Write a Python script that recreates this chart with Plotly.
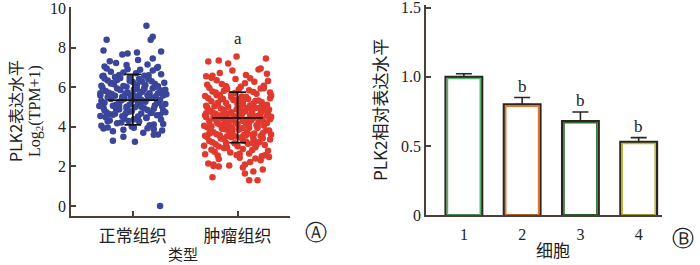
import plotly.graph_objects as go

# ---------------- Panel A data ----------------
groups = ["正常组织", "肿瘤组织"]
group_means = [5.35, 4.45]
group_sd_low = [4.10, 3.20]
group_sd_high = [6.65, 5.75]

normal_jitter = [
    -0.30, -0.22, -0.15, -0.08, -0.01, 0.06, 0.13, 0.20, 0.27, -0.26, -0.11, 0.03, 0.16, 0.29, -0.04,
    -0.31, -0.25, -0.19, -0.13, -0.07, -0.01, 0.05, 0.11, 0.17, 0.23, 0.29, -0.28, -0.22, -0.16, -0.10, -0.04, 0.02, 0.08, 0.14, 0.20, 0.26, 0.31,
    -0.32, -0.27, -0.21, -0.16, -0.11, -0.06, 0.00, 0.05, 0.10, 0.15, 0.21, 0.26, 0.31, -0.30, -0.24, -0.19, -0.13, -0.08, -0.03, 0.03, 0.08, 0.12, 0.18, 0.23, 0.28, -0.01,
    -0.31, -0.26, -0.20, -0.15, -0.10, -0.05, 0.01, 0.06, 0.11, 0.16, 0.22, 0.27, 0.32, -0.29, -0.23, -0.17, -0.12, -0.07, -0.02, 0.04, 0.09, 0.14, 0.19, 0.24, 0.30, -0.09,
    -0.30, -0.24, -0.18, -0.12, -0.06, 0.00, 0.06, 0.12, 0.18, 0.24, 0.30, -0.27, -0.21, -0.15, -0.09, -0.03, 0.03, 0.09, 0.15, 0.21,
    -0.29, -0.21, -0.13, -0.05, 0.03, 0.11, 0.19, 0.27, -0.25, -0.17, -0.09, 0.07, 0.15, 0.23,
    -0.27, -0.16, -0.06, 0.05, 0.14, 0.24, -0.22, 0.19,
    -0.28, -0.19, -0.09, 0.01, 0.10, 0.20, 0.28, -0.24, 0.14, 0.24,
    0.13, 0.19, 0.17, -0.25, -0.28, 0.27, 0.04, -0.05, -0.10, 0.26, -0.19, -0.09, 0.02, 0.20,
    -0.27, -0.14, 0.00, 0.13, 0.27, -0.20, -0.06, 0.08, 0.22, -0.31, -0.17, -0.03, 0.11, 0.25,
    -0.24, -0.10, 0.04, 0.18, 0.31, -0.28, -0.13, 0.01, 0.15, 0.29,
]
normal_vals = [
    4.05, 4.32, 4.18, 4.41, 4.02, 4.27, 4.45, 4.12, 4.36, 4.48, 4.22, 4.38, 4.08, 4.15, 4.30,
    4.55, 4.72, 4.61, 4.88, 4.66, 4.79, 4.52, 4.94, 4.70, 4.58, 4.83, 4.97, 4.64, 4.90, 4.53, 4.76, 4.99, 4.68, 4.85, 4.91, 4.60, 4.74,
    5.05, 5.22, 5.40, 5.11, 5.33, 5.02, 5.47, 5.18, 5.29, 5.44, 5.08, 5.36, 5.15, 5.31, 5.49, 5.06, 5.25, 5.42, 5.13, 5.38, 5.01, 5.27, 5.46, 5.20, 5.03, 5.35,
    5.58, 5.81, 5.66, 5.93, 5.52, 5.74, 5.88, 5.61, 5.97, 5.70, 5.55, 5.84, 5.64, 5.99, 5.72, 5.57, 5.86, 5.68, 5.53, 5.91, 5.77, 5.60, 5.95, 5.69, 5.82, 5.50,
    6.08, 6.34, 6.15, 6.47, 6.02, 6.26, 6.41, 6.11, 6.30, 6.05, 6.22, 6.44, 6.19, 6.37, 6.06, 6.49, 6.13, 6.28, 6.40, 6.17,
    6.55, 6.78, 6.62, 6.91, 6.70, 6.58, 6.85, 6.66, 6.95, 6.52, 6.74, 6.88, 6.60, 6.97,
    7.05, 7.22, 7.12, 7.38, 7.15, 7.02, 7.31, 7.45,
    3.92, 3.78, 3.86, 3.95, 3.70, 3.88, 3.82, 3.97, 3.93, 3.62,
    9.10, 8.55, 8.40, 8.40, 7.85, 7.80, 7.75, 7.70, 7.65, 0.00, 3.30, 3.50, 3.25, 3.60,
    4.82, 5.14, 5.63, 4.47, 5.78, 6.21, 4.93, 5.37, 6.03, 5.69, 4.66, 6.33, 5.91, 5.24,
    4.28, 5.46, 6.12, 4.71, 5.87, 6.58, 5.05, 4.39, 6.44, 5.58,
]

tumor_jitter = [
    -0.28, -0.18, -0.08, 0.02, 0.12, 0.22, 0.30, -0.23, 0.07, 0.17,
    -0.31, -0.25, -0.19, -0.13, -0.07, -0.01, 0.05, 0.11, 0.17, 0.23, 0.29, -0.22, -0.10, 0.02, 0.14, 0.26,
    -0.32, -0.27, -0.21, -0.16, -0.11, -0.06, 0.00, 0.05, 0.10, 0.15, 0.21, 0.26, 0.31, -0.29, -0.24, -0.18, -0.13, -0.03, 0.03, 0.08, 0.18, 0.24,
    -0.31, -0.26, -0.20, -0.15, -0.10, -0.05, 0.01, 0.06, 0.11, 0.16, 0.22, 0.27, 0.32, -0.29, -0.23, -0.17, -0.12, -0.07, -0.02, 0.04, 0.09, 0.14, 0.19, 0.24, 0.30, -0.08,
    -0.32, -0.27, -0.22, -0.17, -0.12, -0.07, -0.02, 0.03, 0.08, 0.13, 0.18, 0.23, 0.28, -0.30, -0.25, -0.20, -0.15, -0.10, -0.05, 0.00, 0.05, 0.10, 0.15, 0.20, 0.25, 0.31, -0.19, 0.11,
    -0.31, -0.26, -0.21, -0.16, -0.11, -0.06, -0.01, 0.04, 0.09, 0.14, 0.19, 0.24, 0.29, -0.29, -0.24, -0.18, -0.13, -0.08, -0.03, 0.02, 0.07, 0.12, 0.17, 0.22, 0.27, 0.32, -0.14, 0.06,
    -0.30, -0.25, -0.19, -0.14, -0.09, -0.04, 0.02, 0.07, 0.12, 0.17, 0.23, 0.28, -0.28, -0.22, -0.16, -0.11, -0.06, 0.00, 0.05, 0.10, 0.15, 0.20, 0.26, 0.31,
    -0.31, -0.24, -0.17, -0.10, -0.03, 0.04, 0.11, 0.18, 0.25, 0.31, -0.27, -0.20, -0.13, -0.06, 0.01, 0.08, 0.15, 0.22,
    -0.29, -0.20, -0.11, -0.02, 0.07, 0.16, 0.25, -0.25, -0.15, 0.03, 0.12, 0.29,
    -0.30, -0.17, -0.05, 0.08, 0.20, 0.28, -0.24,
    -0.01, 0.27, -0.28, -0.18, -0.09, 0.22, -0.24, 0.11, 0.19, 0.07, 0.15, 0.24, -0.18, -0.23, 0.05,
    -0.26, -0.12, 0.02, 0.16, 0.30, -0.19, -0.05, 0.09, 0.23, -0.30, -0.16, -0.02, 0.12, 0.26,
    -0.23, -0.09, 0.05, 0.19, 0.32, -0.27, -0.13, 0.00, 0.14, 0.28, -0.21, -0.07, 0.08, 0.21,
]
tumor_vals = [
    2.15, 2.38, 2.05, 2.44, 2.22, 2.31, 2.48, 2.02, 2.10, 2.40,
    2.62, 2.85, 2.55, 2.93, 2.71, 2.58, 2.88, 2.66, 2.97, 2.52, 2.79, 2.74, 2.95, 2.64, 2.83, 2.57,
    3.05, 3.28, 3.12, 3.41, 3.19, 3.47, 3.02, 3.33, 3.15, 3.44, 3.24, 3.08, 3.36, 3.49, 3.22, 3.01, 3.38, 3.17, 3.46, 3.26, 3.10, 3.43,
    3.55, 3.78, 3.63, 3.91, 3.52, 3.70, 3.86, 3.59, 3.96, 3.67, 3.54, 3.82, 3.61, 3.98, 3.73, 3.57, 3.88, 3.65, 3.51, 3.93, 3.76, 3.60, 3.94, 3.68, 3.81, 3.99,
    4.05, 4.28, 4.42, 4.12, 4.35, 4.01, 4.22, 4.47, 4.16, 4.33, 4.08, 4.40, 4.19, 4.49, 4.03, 4.26, 4.44, 4.10, 4.37, 4.14, 4.30, 4.02, 4.45, 4.24, 4.07, 4.38, 4.17, 4.21,
    4.58, 4.81, 4.66, 4.93, 4.52, 4.74, 4.88, 4.61, 4.97, 4.70, 4.55, 4.84, 4.63, 4.99, 4.72, 4.57, 4.86, 4.68, 4.53, 4.91, 4.77, 4.60, 4.95, 4.69, 4.82, 4.51, 4.64, 4.79,
    5.06, 5.29, 5.14, 5.42, 5.02, 5.35, 5.19, 5.47, 5.09, 5.31, 5.24, 5.12, 5.45, 5.04, 5.38, 5.21, 5.49, 5.11, 5.27, 5.40, 5.16, 5.33, 5.08, 5.44,
    5.56, 5.78, 5.62, 5.91, 5.70, 5.53, 5.85, 5.67, 5.95, 5.74, 5.98, 5.59, 5.82, 5.64, 5.88, 5.52, 5.76, 5.93,
    6.12, 6.35, 6.05, 6.41, 6.20, 6.28, 6.08, 6.48, 6.16, 6.03, 6.45, 6.32,
    6.55, 6.72, 6.85, 6.62, 6.90, 6.68, 6.58,
    7.55, 7.45, 7.30, 7.35, 7.20, 6.95, 1.45, 1.30, 1.30, 1.65, 1.75, 1.85, 2.00, 2.10, 1.95,
    3.72, 4.14, 4.63, 3.29, 4.87, 5.21, 3.93, 4.36, 5.04, 4.69, 3.46, 5.33, 4.91, 4.23,
    4.48, 3.84, 5.12, 4.02, 5.58, 3.66, 4.77, 5.39, 3.18, 4.56, 5.74, 4.31, 3.57, 4.95,
]
sig_a_label = "a"
sig_a_y = 8.45

# ---------------- Panel B data ----------------
cells = ["1", "2", "3", "4"]
cell_vals = [1.00, 0.80, 0.68, 0.53]
cell_err = [0.022, 0.05, 0.065, 0.03]
cell_sig = ["", "b", "b", "b"]
cell_colors = ["#55b46a", "#e8742e", "#2f6b2c", "#bdb83a"]

AX = "#4a403a"
SERIF = "Liberation Serif, Times New Roman, Noto Sans CJK SC, serif"
CJK = "Noto Sans CJK SC, Liberation Serif, serif"

fig = go.Figure()

fig.add_trace(go.Scatter(
    x=[0 + j for j in normal_jitter], y=normal_vals, mode="markers",
    marker=dict(size=6.5, color="#3b469a"), xaxis="x", yaxis="y", showlegend=False))
fig.add_trace(go.Scatter(
    x=[1 + j for j in tumor_jitter], y=tumor_vals, mode="markers",
    marker=dict(size=6.5, color="#e0392e"), xaxis="x", yaxis="y", showlegend=False))

for i in range(len(groups)):
    xs = [i - 0.24, i + 0.24, None, i, i, None, i - 0.08, i + 0.08, None, i - 0.08, i + 0.08]
    ys = [group_means[i], group_means[i], None, group_sd_low[i], group_sd_high[i], None,
          group_sd_high[i], group_sd_high[i], None, group_sd_low[i], group_sd_low[i]]
    fig.add_trace(go.Scatter(x=xs, y=ys, mode="lines", line=dict(color="#111111", width=1.7),
                             xaxis="x", yaxis="y", showlegend=False))

cell_x = [int(c) for c in cells]
fig.add_trace(go.Bar(
    x=cell_x, y=cell_vals, width=0.63, marker=dict(color="white", line=dict(color="#2b2623", width=2.2)),
    error_y=dict(type="data", symmetric=False, array=cell_err, arrayminus=[0] * 4,
                 color="#2b2623", thickness=1.6, width=8),
    xaxis="x2", yaxis="y2", showlegend=False))
fig.add_trace(go.Bar(
    x=cell_x, y=[v - 0.012 for v in cell_vals], width=0.565,
    marker=dict(color="rgba(0,0,0,0)", line=dict(color=cell_colors, width=1.6)),
    xaxis="x2", yaxis="y2", showlegend=False))

W, H = 700, 265
def fy(px):
    return 1 - px / H

common_ax = dict(showline=True, linecolor=AX, linewidth=1.5, showgrid=False, zeroline=False,
                 automargin=False, ticklabeloverflow="allow")

fig.update_layout(
    width=W, height=H, margin=dict(l=0, r=0, t=0, b=0),
    paper_bgcolor="white", plot_bgcolor="white", barmode="overlay",
    font=dict(family=SERIF, size=16, color="#222222"),
    xaxis=dict(domain=[71 / W, 290 / W], range=[-0.59, 1.5], tickvals=[0, 1], ticktext=groups,
               ticks="inside", ticklen=5, tickcolor=AX, tickwidth=1.5, ticklabelstandoff=4,
               tickfont=dict(family=CJK, size=17, color="#222"), **common_ax),
    yaxis=dict(domain=[fy(216), fy(7)], range=[-0.5, 10.05], tickvals=[0, 2, 4, 6, 8, 10],
               ticks="inside", ticklen=5, tickcolor=AX, tickwidth=1.5,
               tickfont=dict(family=SERIF, size=16, color="#222"), **common_ax),
    xaxis2=dict(domain=[426 / W, 662 / W], range=[0.35, 4.4], tickvals=cell_x, ticktext=cells,
                ticks="", anchor="y2", ticklabelstandoff=4,
                tickfont=dict(family=SERIF, size=16, color="#222"), **common_ax),
    yaxis2=dict(domain=[fy(215), fy(5)], range=[0, 1.52], tickvals=[0, 0.5, 1.0, 1.5],
                ticktext=["0", "0.5", "1.0", "1.5"], anchor="x2",
                ticks="inside", ticklen=5, tickcolor=AX, tickwidth=1.5,
                tickfont=dict(family=SERIF, size=16, color="#222"), **common_ax),
)

ann = []
ann.append(dict(text="PLK2表达水平", x=15 / W, y=fy(111), xref="paper", yref="paper", textangle=-90,
                showarrow=False, font=dict(family=CJK, size=16, color="#222"), xanchor="center", yanchor="middle"))
ann.append(dict(text="Log<sub>2</sub>(TPM+1)", x=35 / W, y=fy(111), xref="paper", yref="paper", textangle=-90,
                showarrow=False, font=dict(family=SERIF, size=16, color="#222"), xanchor="center", yanchor="middle"))
ann.append(dict(text="类型", x=183 / W, y=fy(253), xref="paper", yref="paper", showarrow=False,
                font=dict(family=CJK, size=15, color="#222"), xanchor="center", yanchor="middle"))
ann.append(dict(text=sig_a_label, x=1, y=sig_a_y, xref="x", yref="y", showarrow=False,
                font=dict(family=SERIF, size=17, color="#222")))
ann.append(dict(text="Ⓐ", x=316 / W, y=fy(232), xref="paper", yref="paper", showarrow=False,
                font=dict(family="DejaVu Sans", size=22, color="#222"), xanchor="center", yanchor="middle"))
ann.append(dict(text="PLK2相对表达水平", x=379 / W, y=fy(110), xref="paper", yref="paper", textangle=-90,
                showarrow=False, font=dict(family=CJK, size=17, color="#222"), xanchor="center", yanchor="middle"))
ann.append(dict(text="细胞", x=553 / W, y=fy(249), xref="paper", yref="paper", showarrow=False,
                font=dict(family=CJK, size=17, color="#222"), xanchor="center", yanchor="middle"))
ann.append(dict(text="Ⓑ", x=683 / W, y=fy(238), xref="paper", yref="paper", showarrow=False,
                font=dict(family="DejaVu Sans", size=22, color="#222"), xanchor="center", yanchor="middle"))
for xv, v, e, s in zip(cell_x, cell_vals, cell_err, cell_sig):
    if s:
        ann.append(dict(text=s, x=xv, y=v + e, xref="x2", yref="y2", showarrow=False, yanchor="bottom",
                        yshift=0, font=dict(family=SERIF, size=17, color="#222")))
fig.update_layout(annotations=ann)

fig.write_html("out.html")
